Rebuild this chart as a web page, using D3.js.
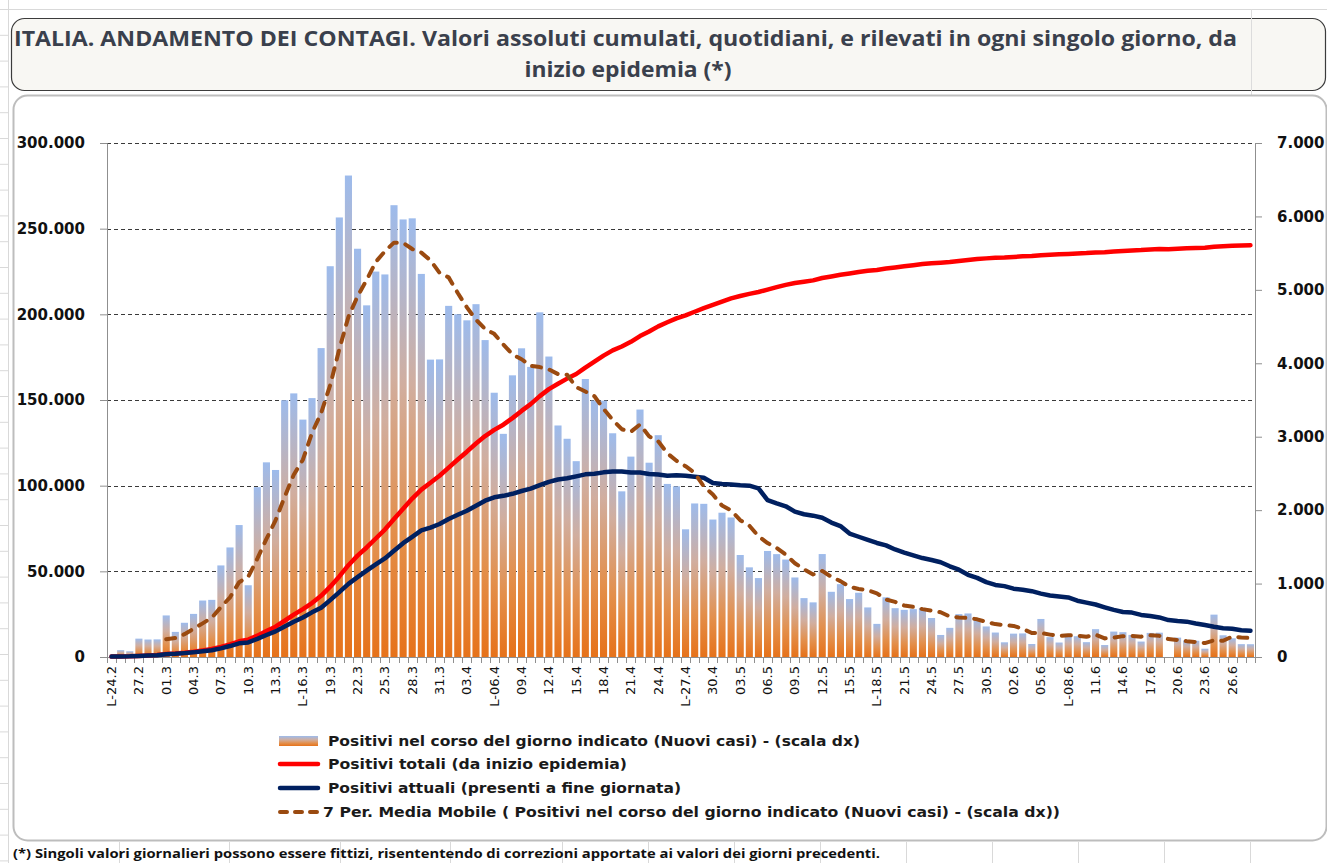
<!DOCTYPE html>
<html>
<head>
<meta charset="utf-8">
<script src="https://d3js.org/d3.v7.min.js"></script>
<style>
  body { margin: 0; background: #fff; }
  svg { display: block; }
</style>
</head>
<body>
<svg width="1327" height="863"></svg>
<script>
// giorni dal 24.2 al 28.6
const giorni = [
  '24.2','25.2','26.2','27.2','28.2','29.2',
  '01.3','02.3','03.3','04.3','05.3','06.3','07.3','08.3','09.3','10.3','11.3','12.3','13.3','14.3','15.3','16.3',
  '17.3','18.3','19.3','20.3','21.3','22.3','23.3','24.3','25.3','26.3','27.3','28.3','29.3','30.3','31.3',
  '01.4','02.4','03.4','04.4','05.4','06.4','07.4','08.4','09.4','10.4','11.4','12.4','13.4','14.4','15.4',
  '16.4','17.4','18.4','19.4','20.4','21.4','22.4','23.4','24.4','25.4','26.4','27.4','28.4','29.4','30.4',
  '01.5','02.5','03.5','04.5','05.5','06.5','07.5','08.5','09.5','10.5','11.5','12.5','13.5','14.5','15.5','16.5',
  '17.5','18.5','19.5','20.5','21.5','22.5','23.5','24.5','25.5','26.5','27.5','28.5','29.5','30.5','31.5',
  '01.6','02.6','03.6','04.6','05.6','06.6','07.6','08.6','09.6','10.6','11.6','12.6','13.6','14.6','15.6',
  '16.6','17.6','18.6','19.6','20.6','21.6','22.6','23.6','24.6','25.6','26.6','27.6','28.6'
]

// etichette asse x (una ogni 3 giorni, L- = lunedi)
const tickLabels = [
  'L-24.2','27.2','01.3','04.3','07.3','10.3','13.3','L-16.3','19.3','22.3','25.3','28.3','31.3','03.4',
  'L-06.4','09.4','12.4','15.4','18.4','21.4','24.4','L-27.4','30.4','03.5','06.5','09.5','12.5','15.5',
  'L-18.5','21.5','24.5','27.5','30.5','02.6','05.6','L-08.6','11.6','14.6','17.6','20.6','23.6','26.6'
]

// nuovi casi (scala dx)
const nuoviCasi = [
  null,93,78,250,238,240,566,342,466,587,
  769,778,1247,1492,1797,977,2313,2651,2547,3497,
  3590,3233,3526,4207,5322,5986,6557,5560,4789,5249,
  5210,6153,5959,5974,5217,4050,4053,4782,4668,4585,
  4805,4316,3599,3039,3836,4204,3951,4694,4092,3153,
  2972,2667,3786,3493,3491,3047,2256,2729,3370,2646,
  3021,2357,2324,1739,2091,2086,1872,1965,1900,1389,
  1221,1075,1444,1401,1327,1083,802,744,1402,888,
  992,789,875,675,451,813,665,642,652,669,
  531,300,397,584,593,516,416,333,200,318,
  321,177,518,270,197,280,283,202,379,163,
  346,338,301,210,328,331,null,264,224,221,
  113,577,296,255,175,174
]

// positivi totali (scala sx)
const positiviTotali = [
  229,322,400,650,888,1128,1694,2036,2502,3089,
  3858,4636,5883,7375,9172,10149,12462,15113,17660,21157,
  24747,27980,31506,35713,41035,47021,53578,59138,63927,69176,
  74386,80539,86498,92472,97689,101739,105792,110574,115242,119827,
  124632,128948,132547,135586,139422,143626,147577,152271,156363,159516,
  162488,165155,168941,172434,175925,178972,181228,183957,187327,189973,
  192994,195351,197675,199414,201505,203591,205463,207428,209328,210717,
  211938,213013,214457,215858,217185,218268,219070,219814,221216,222104,
  223096,223885,224760,225435,225886,226699,227364,228006,228658,229327,
  229858,230158,230555,231139,231732,232248,232664,232997,233197,233515,
  233836,234013,234531,234801,234998,235278,235561,235763,236142,236305,
  236651,236989,237290,237500,237828,238159,238011,238275,238499,238720,
  238833,239410,239706,239961,240136,240310
]

// positivi attuali (scala sx)
const positiviAttuali = [
  221,311,385,588,821,1049,1577,1835,2263,2706,
  3296,3916,5061,6387,7985,8514,10590,12839,14955,17750,
  20603,23073,26062,28710,33190,37860,42681,46638,50418,54030,
  57521,62013,66414,70065,73880,75528,77635,80572,83049,85388,
  88274,91246,93187,94067,95262,96877,98273,100269,102253,103616,
  104291,105418,106607,106962,107771,108257,108237,107709,107699,106848,
  106527,105847,106103,105813,105205,104657,101551,100943,100704,100179,
  99980,98467,91528,89624,87961,84842,83324,82488,81266,78457,
  76440,72070,70187,68351,66553,65129,62752,60960,59322,57752,
  56594,55300,52942,50966,47986,46175,43691,42075,41367,39893,
  39297,38429,36976,35877,35262,34730,32872,31710,30637,28997,
  27485,26274,25909,24569,23925,23101,21543,20972,20637,19573,
  18655,17638,16836,16496,15563,15255
]

// media mobile 7 periodi dei nuovi casi (scala dx)
const mediaMobile = [
  null,null,null,null,null,null,
  241,258,311,384,458,535,679,812,1019,1092,
  1339,1608,1861,2182,2482,2687,3051,3322,3703,4194,
  4632,4913,5135,5381,5525,5643,5640,5556,5507,5402,
  5231,5170,4958,4761,4594,4466,4401,4256,4121,4055,
  3964,3948,3916,3853,3843,3676,3616,3551,3379,3230,
  3102,3067,3167,3005,2937,2775,2672,2598,2507,2323,
  2213,2062,1997,1863,1789,1644,1552,1485,1394,1277,
  1193,1125,1172,1092,1034,957,927,909,867,783,
  751,701,682,652,632,610,551,539,532,513,
  477,448,434,423,385,326,326,305,286,297,
  292,275,304,253,264,284,287,277,295,288,
  244,232,216,204,190,226,221,279,266,259
]

const leftTicks = [0, 50000, 100000, 150000, 200000, 250000, 300000]
const rightTicks = [0, 1000, 2000, 3000, 4000, 5000, 6000, 7000]

const legendItems = [
  'Positivi nel corso del giorno indicato (Nuovi casi) - (scala dx)',
  'Positivi totali (da inizio epidemia)',
  'Positivi attuali (presenti a fine giornata)',
  '7 Per. Media Mobile ( Positivi nel corso del giorno indicato (Nuovi casi) - (scala dx))'
]

const it = d3.formatLocale({decimal: ',', thousands: '.', grouping: [3], currency: ['€', '']})
const fmt = it.format(',d')

const svg = d3.select('svg')
const plot = {left: 107, right: 1255, top: 143, bottom: 657}

// ---- sfondo foglio ----
const sheet = svg.append('g').attr('stroke', '#d9d9d9').attr('stroke-width', 1)
sheet.append('line').attr('x1', 0).attr('x2', 1327).attr('y1', 9.5).attr('y2', 9.5)
sheet.append('line').attr('x1', 8.5).attr('x2', 8.5).attr('y1', 0).attr('y2', 863)
d3.range(9.5, 863, 25.8).forEach(y => {
  sheet.append('line').attr('x1', 0).attr('x2', 8).attr('y1', y).attr('y2', y)
})
;[119, 229, 340, 450, 562, 648, 734, 820, 906, 992, 1078, 1164, 1250].forEach(x => {
  sheet.append('line').attr('x1', x + 0.5).attr('x2', x + 0.5).attr('y1', 842).attr('y2', 863)
})

// ---- box titolo ----
svg.append('rect')
  .attr('x', 11.5).attr('y', 18.5).attr('width', 1314).attr('height', 72)
  .attr('rx', 13)
  .attr('fill', '#f8f7f3').attr('stroke', '#3c3c3c').attr('stroke-width', 1.2)
svg.append('line').attr('x1', 1251.5).attr('x2', 1251.5).attr('y1', 9).attr('y2', 95)
  .attr('stroke', '#dcdcdc')

const title = svg.append('g')
  .attr('font-family', '"Open Sans", sans-serif')
  .attr('font-weight', 700)
  .attr('font-size', 22)
  .attr('fill', '#3a404c')
  .attr('text-anchor', 'middle')
title.append('text').attr('x', 625.5).attr('y', 46)
  .attr('textLength', 1223).attr('lengthAdjust', 'spacingAndGlyphs')
  .text('ITALIA. ANDAMENTO DEI CONTAGI. Valori assoluti cumulati, quotidiani, e rilevati in ogni singolo giorno, da')
title.append('text').attr('x', 628).attr('y', 77)
  .attr('textLength', 207).attr('lengthAdjust', 'spacingAndGlyphs')
  .text('inizio epidemia (*)')

// ---- box grafico ----
svg.append('rect')
  .attr('x', 13.5).attr('y', 95.5).attr('width', 1313).attr('height', 745)
  .attr('rx', 14)
  .attr('fill', '#fff').attr('stroke', '#bdbdbd').attr('stroke-width', 2)

// ---- scale ----
const xScale = d3.scaleBand()
  .domain(giorni)
  .range([plot.left, plot.right])
  .paddingInner(0.22)
  .paddingOuter(0.11)
const yLeft = d3.scaleLinear().domain([0, 300000]).range([plot.bottom, plot.top])
const yRight = d3.scaleLinear().domain([0, 7000]).range([plot.bottom, plot.top])
const cx = (d, i) => xScale(giorni[i]) + xScale.bandwidth() / 2

// gradient barre
const defs = svg.append('defs')
const grad = defs.append('linearGradient').attr('id', 'barGrad')
  .attr('x1', 0).attr('y1', 0).attr('x2', 0).attr('y2', 1)
grad.append('stop').attr('offset', '0%').attr('stop-color', '#9dbbec')
grad.append('stop').attr('offset', '38%').attr('stop-color', '#d1ae9f')
grad.append('stop').attr('offset', '72%').attr('stop-color', '#e38f4b')
grad.append('stop').attr('offset', '100%').attr('stop-color', '#e6721a')

// griglia
svg.append('g').selectAll('line')
  .data(leftTicks.filter(d => d > 0))
  .enter().append('line')
  .attr('x1', plot.left).attr('x2', plot.right)
  .attr('y1', d => Math.round(yLeft(d)) + 0.5).attr('y2', d => Math.round(yLeft(d)) + 0.5)
  .attr('stroke', '#3a3a3a').attr('stroke-width', 1).attr('stroke-dasharray', '4,3')

// barre
const barData = nuoviCasi
  .map((v, i) => ({giorno: giorni[i], v}))
  .filter(d => d.v != null)
svg.append('g').selectAll('.bar')
  .data(barData)
  .enter()
  .append('rect')
  .classed('bar', true)
  .attr('x', d => xScale(d.giorno))
  .attr('width', xScale.bandwidth())
  .attr('y', d => yRight(d.v))
  .attr('height', d => plot.bottom - yRight(d.v))
  .attr('fill', 'url(#barGrad)')

// assi
const tickFont = g => g.selectAll('text')
  .attr('font-family', '"DejaVu Sans", Verdana, sans-serif')
  .attr('font-weight', 'bold')
  .attr('font-size', 15)
  .attr('fill', '#111')

const axL = svg.append('g')
  .attr('transform', `translate(${plot.left},0)`)
  .call(d3.axisLeft(yLeft).tickValues(leftTicks).tickSize(7).tickPadding(15).tickFormat(fmt))
  .call(tickFont)
axL.select('.domain').attr('stroke', '#8f8f8f')
axL.selectAll('.tick line').attr('stroke', '#8f8f8f')

const axR = svg.append('g')
  .attr('transform', `translate(${plot.right},0)`)
  .call(d3.axisRight(yRight).tickValues(rightTicks).tickSize(7).tickPadding(15).tickFormat(fmt))
  .call(tickFont)
axR.select('.domain').attr('stroke', '#8f8f8f')
axR.selectAll('.tick line').attr('stroke', '#8f8f8f')

// asse x
const axB = svg.append('g').attr('transform', `translate(0,${plot.bottom})`)
axB.append('line')
  .attr('x1', plot.left).attr('x2', plot.right)
  .attr('y1', 0.5).attr('y2', 0.5)
  .attr('stroke', '#8f8f8f')
axB.selectAll('.xtick')
  .data(d3.range(giorni.length + 1))
  .enter().append('line')
  .classed('xtick', true)
  .attr('x1', i => Math.round(plot.left + i * xScale.step()) + 0.5)
  .attr('x2', i => Math.round(plot.left + i * xScale.step()) + 0.5)
  .attr('y1', 0).attr('y2', 6)
  .attr('stroke', '#8f8f8f')
axB.selectAll('.xlabel')
  .data(tickLabels)
  .enter().append('text')
  .classed('xlabel', true)
  .attr('transform', d => {
    const day = d.replace('L-', '')
    return `translate(${xScale(day) + xScale.bandwidth() / 2},9) rotate(-90)`
  })
  .attr('dy', '0.35em')
  .attr('text-anchor', 'end')
  .attr('font-family', '"DejaVu Sans", Verdana, sans-serif')
  .attr('font-size', 13)
  .attr('fill', '#111')
  .text(d => d)

// linee
const lineL = d3.line().defined(d => d != null).x(cx).y(d => yLeft(d))
const lineR = d3.line().defined(d => d != null).x(cx).y(d => yRight(d))

svg.append('path').datum(positiviTotali)
  .attr('d', lineL)
  .attr('fill', 'none').attr('stroke', '#ff0000').attr('stroke-width', 4.5)
  .attr('stroke-linejoin', 'round').attr('stroke-linecap', 'round')

svg.append('path').datum(positiviAttuali)
  .attr('d', lineL)
  .attr('fill', 'none').attr('stroke', '#002060').attr('stroke-width', 4.5)
  .attr('stroke-linejoin', 'round').attr('stroke-linecap', 'round')

svg.append('path').datum(mediaMobile)
  .attr('d', lineR)
  .attr('fill', 'none').attr('stroke', '#9a4a10').attr('stroke-width', 4)
  .attr('stroke-dasharray', '9,9')
  .attr('stroke-linejoin', 'round').attr('stroke-linecap', 'round')

// legenda
const legend = svg.append('g')
const legY = [741, 764, 788, 812]
const legW = [532, 299, 353, 737]
legend.append('rect')
  .attr('x', 279).attr('y', 736).attr('width', 39).attr('height', 10)
  .attr('fill', 'url(#barGrad)')
legend.append('line')
  .attr('x1', 280).attr('x2', 318).attr('y1', legY[1]).attr('y2', legY[1])
  .attr('stroke', '#ff0000').attr('stroke-width', 4.5).attr('stroke-linecap', 'round')
legend.append('line')
  .attr('x1', 280).attr('x2', 318).attr('y1', legY[2]).attr('y2', legY[2])
  .attr('stroke', '#002060').attr('stroke-width', 4.5).attr('stroke-linecap', 'round')
legend.append('line')
  .attr('x1', 280).attr('x2', 320).attr('y1', legY[3]).attr('y2', legY[3])
  .attr('stroke', '#9a4a10').attr('stroke-width', 4)
  .attr('stroke-dasharray', '7,8').attr('stroke-linecap', 'round')
legend.selectAll('text')
  .data(legendItems)
  .enter().append('text')
  .attr('x', (d, i) => i === 3 ? 323 : 328)
  .attr('y', (d, i) => legY[i])
  .attr('dy', '0.36em')
  .attr('textLength', (d, i) => legW[i])
  .attr('lengthAdjust', 'spacingAndGlyphs')
  .attr('font-family', '"DejaVu Sans", Verdana, sans-serif')
  .attr('font-weight', 'bold')
  .attr('font-size', 13.5)
  .attr('fill', '#1a1a1a')
  .text(d => d)

// nota (in fondo, appena sotto il box)
svg.append('text')
  .attr('x', 13).attr('y', 858)
  .attr('textLength', 867).attr('lengthAdjust', 'spacingAndGlyphs')
  .attr('font-family', '"Open Sans", sans-serif')
  .attr('font-weight', 700)
  .attr('font-size', 13)
  .attr('fill', '#111')
  .text('(*) Singoli valori giornalieri possono essere fittizi, risententendo di correzioni apportate ai valori dei giorni precedenti.')
</script>
</body>
</html>
